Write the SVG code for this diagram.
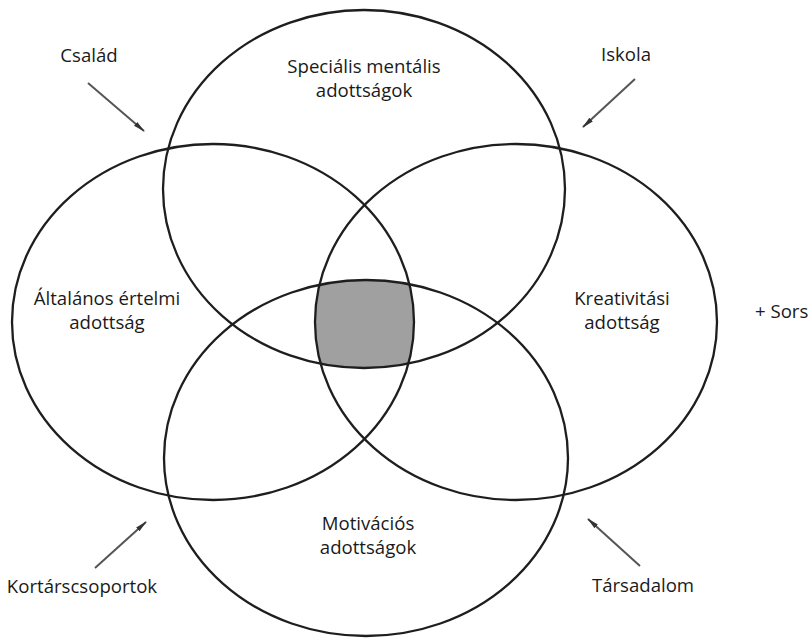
<svg xmlns="http://www.w3.org/2000/svg" width="809" height="639" viewBox="0 0 809 639">
<defs>
<style>
.ring{fill:none;stroke:#1e1e1e;stroke-width:2.3}
.lbl{font-family:"Open Sans","Liberation Sans",sans-serif;font-size:18.6px;fill:#1a1a1a;text-anchor:middle}
.arr{stroke:#555;stroke-width:2;fill:none;marker-end:url(#ah)}
</style>
<marker id="ah" viewBox="0 0 12 6" refX="11" refY="3" markerWidth="12" markerHeight="6" markerUnits="userSpaceOnUse" orient="auto">
<path d="M0,0.5 L12,3 L0,5.5 Z" fill="#333"/>
</marker>
<clipPath id="cT"><ellipse cx="364" cy="189" rx="201" ry="179"/></clipPath>
<clipPath id="cB"><ellipse cx="366" cy="458" rx="202" ry="178"/></clipPath>
<clipPath id="cL"><ellipse cx="213" cy="322" rx="201" ry="178"/></clipPath>
</defs>
<rect width="809" height="639" fill="#fff"/>
<g id="core">
<g clip-path="url(#cT)"><g clip-path="url(#cB)"><g clip-path="url(#cL)">
<ellipse cx="516" cy="322" rx="201" ry="178" fill="#a0a0a0"/>
</g></g></g>
</g>
<g id="special">
<ellipse class="ring" cx="364" cy="189" rx="201" ry="179"/>
<text class="lbl" x="364" y="73">Speciális mentális</text>
<text class="lbl" x="364" y="97">adottságok</text>
</g>
<g id="general">
<ellipse class="ring" cx="213" cy="322" rx="201" ry="178"/>
<text class="lbl" x="107" y="305">Általános értelmi</text>
<text class="lbl" x="107" y="329">adottság</text>
</g>
<g id="creative">
<ellipse class="ring" cx="516" cy="322" rx="201" ry="178"/>
<text class="lbl" x="622" y="305">Kreativitási</text>
<text class="lbl" x="622" y="329">adottság</text>
</g>
<g id="motivation">
<ellipse class="ring" cx="366" cy="458" rx="202" ry="178"/>
<text class="lbl" x="368" y="530">Motivációs</text>
<text class="lbl" x="368" y="554">adottságok</text>
</g>
<g id="family"><text class="lbl" x="89" y="62">Család</text></g>
<g id="school"><text class="lbl" x="626" y="61">Iskola</text></g>
<g id="peers"><text class="lbl" x="82" y="593">Kortárscsoportok</text></g>
<g id="society"><text class="lbl" x="643" y="592">Társadalom</text></g>
<g id="fate"><text class="lbl" x="755" y="318" style="text-anchor:start">+ Sors</text></g>
<g id="connectors">
<line class="arr" x1="88" y1="83" x2="144" y2="131"/>
<line class="arr" x1="635" y1="79" x2="583" y2="127"/>
<line class="arr" x1="95" y1="568" x2="146" y2="522"/>
<line class="arr" x1="640" y1="566" x2="588" y2="519"/>
</g>
</svg>
